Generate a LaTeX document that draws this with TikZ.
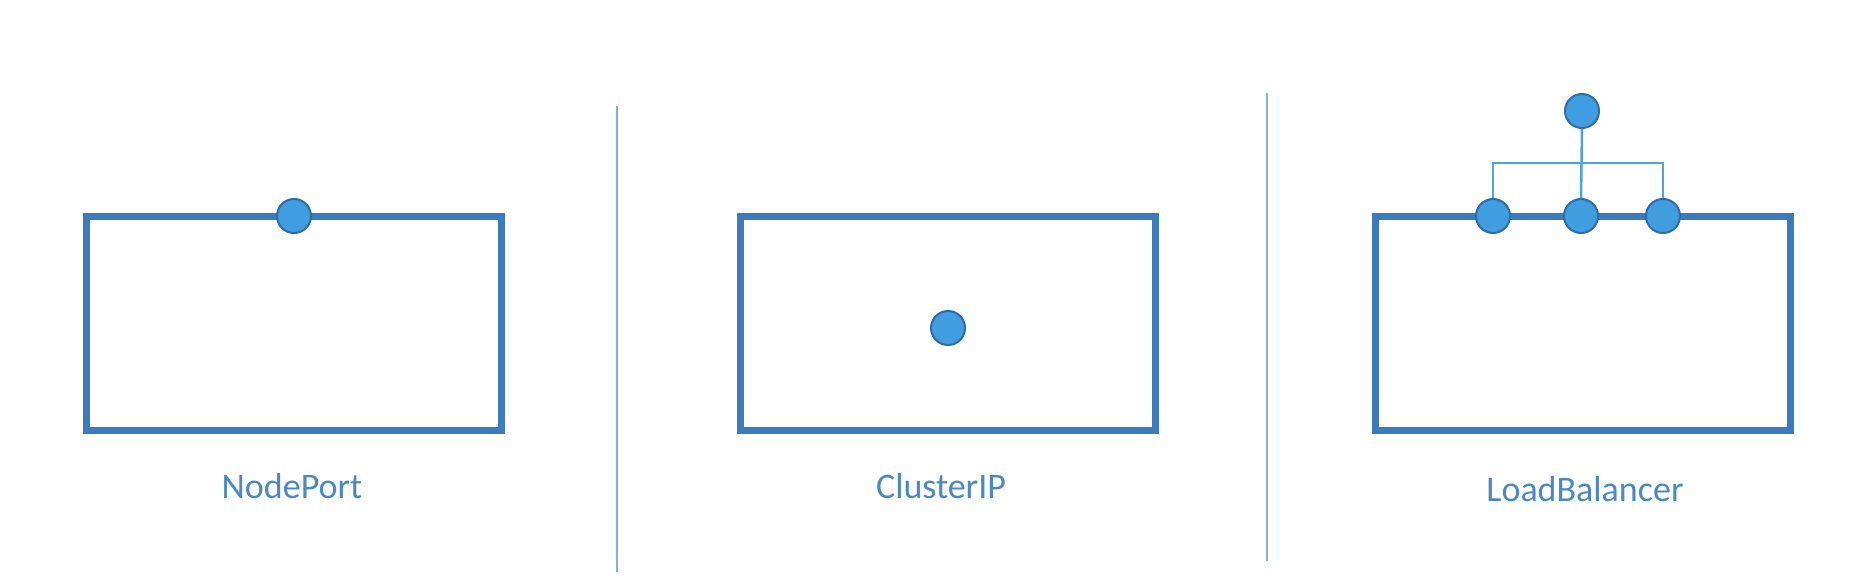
\documentclass[tikz,border=0pt]{standalone}
\usepackage{fontspec}
\setmainfont{Carlito}
\definecolor{boxblue}{HTML}{3B7CBE}
\definecolor{dotfill}{HTML}{3F9DE0}
\definecolor{dotedge}{HTML}{2C6DAA}
\definecolor{linkblue}{HTML}{4AA8D8}
\definecolor{divblue}{HTML}{7DB8D2}
\definecolor{txtblue}{HTML}{4A88C8}
\tikzset{
  svcbox/.style={draw=boxblue, line width=7pt, minimum width=415pt, minimum height=214pt, inner sep=0pt},
  port/.style={circle, draw=dotedge, fill=dotfill, line width=2pt, minimum size=34pt, inner sep=0pt},
  link/.style={draw=linkblue, line width=2.5pt},
  divider/.style={draw=divblue, line width=1.6pt},
  lbl/.style={text=txtblue, font=\fontsize{36}{40}\selectfont, anchor=base, inner sep=0pt}
}
\begin{document}
\begin{tikzpicture}[x=1pt,y=-1pt]
\useasboundingbox (0,0) rectangle (1872,582);
% boxes
\node[svcbox] (b1) at (293.5,323) {};
\node[svcbox] (b2) at (947.5,323) {};
\node[svcbox] (b3) at (1582.5,323) {};
% dividers
\coordinate (d1t) at (617,106);
\coordinate (d1b) at (617,572);
\coordinate (d2t) at (1267,93);
\coordinate (d2b) at (1267,561);
\draw[divider] (d1t) -- (d1b);
\draw[divider] (d2t) -- (d2b);
% ports
\node[port] (np) at (294,216) {};
\node[port] (cip) at (948,328) {};
\node[port] (lbl1) at (1493,216) {};
\node[port] (lbm) at (1581,216) {};
\node[port] (lbr) at (1663,216) {};
\node[port] (lbtop) at (1582,111) {};
% connectors
\coordinate (bar) at (1582,163);
\draw[link] (lbtop.south) -- (lbm.north);
\draw[link] (lbl1.north) -- (lbl1.north |- bar) -- (lbr.north |- bar) -- (lbr.north);
% labels
\node[lbl] (t1) at (292,498) {NodePort};
\node[lbl] (t2) at (941,498) {ClusterIP};
\node[lbl] (t3) at (1585,501) {LoadBalancer};
\end{tikzpicture}
\end{document}
